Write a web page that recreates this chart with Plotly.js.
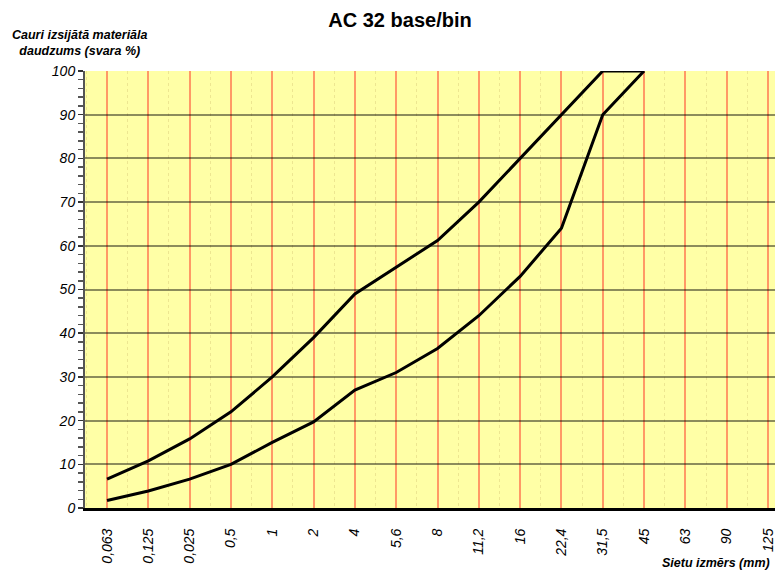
<!DOCTYPE html>
<html>
<head>
<meta charset="utf-8">
<script src="https://cdn.plot.ly/plotly-3.0.1.min.js"></script>
<style>html,body{margin:0;padding:0;background:#fff;overflow:hidden;}#chart{width:790px;height:573px;}</style>
</head>
<body>
<div id="chart"></div>
<script>
const categories = ["0,063","0,125","0,025","0,5","1","2","4","5,6","8","11,2","16","22,4","31,5","45","63","90","125"];
const upperLimit = [6.6, 10.8, 15.8, 22, 30, 39, 49, 55, 61.2, 70, 80, 90, 100, 100];
const lowerLimit = [1.7, 3.9, 6.6, 10, 15, 19.7, 27, 31, 36.5, 44, 53, 64, 90, 100];
const yTicks = [0,10,20,30,40,50,60,70,80,90,100];

const idx = categories.map((c, i) => i);
const font = "Liberation Sans, Arial, sans-serif";

const traces = [upperLimit, lowerLimit].map((vals, k) => ({
  x: idx.slice(0, vals.length),
  y: vals,
  type: 'scatter',
  mode: 'lines',
  name: k === 0 ? 'upper' : 'lower',
  line: {color: '#000000', width: 3, shape: 'linear'},
  hoverinfo: 'skip',
  showlegend: false
}));

const layout = {
  width: 790, height: 573,
  margin: {l: 85, r: 0, t: 71, b: 65},
  paper_bgcolor: '#ffffff',
  plot_bgcolor: '#FFFFA6',
  showlegend: false,
  title: {text: '<b>AC 32 base/bin</b>', font: {family: font, size: 20, color: '#000'}, xref: 'container', x: 400/790, xanchor: 'center', y: 0.965, yanchor: 'middle'},
  xaxis: {
    type: 'linear',
    range: [-0.533, 16.533],
    tickmode: 'array',
    tickvals: idx,
    ticktext: categories,
    tickangle: -90,
    tickfont: {family: font, size: 14, color: '#000', style: 'italic'},
    ticks: 'outside', ticklen: 12, tickcolor: 'rgba(0,0,0,0)',
    showgrid: true, gridcolor: '#FF9966', gridwidth: 2,
    minor: {tickmode: 'linear', tick0: 0.5, dtick: 1, showgrid: true, gridcolor: 'rgba(215,200,120,0.45)', griddash: 'dot', gridwidth: 1},
    showline: true, linecolor: '#000', linewidth: 3,
    zeroline: false, fixedrange: true
  },
  yaxis: {
    range: [0, 100],
    tickmode: 'array', tickvals: yTicks, ticktext: yTicks.map(String),
    tickfont: {family: font, size: 14, color: '#000', style: 'italic'},
    ticks: 'outside', ticklen: 5, tickcolor: '#333', tickwidth: 1.5,
    minor: {tickmode: 'linear', tick0: 0, dtick: 2, ticks: 'outside', ticklen: 5, tickcolor: '#555', showgrid: false},
    showgrid: true, gridcolor: 'rgba(0,0,0,0.45)', gridwidth: 2,
    showline: true, linecolor: '#555', linewidth: 2,
    zeroline: false, fixedrange: true
  },
  annotations: [
    {text: '<b><i>Cauri izsijātā materiāla<br>daudzums (svara %)</i></b>', xref: 'paper', yref: 'paper',
     x: -0.0078, y: 1.063, xanchor: 'center', yanchor: 'middle', showarrow: false, align: 'center',
     font: {family: font, size: 12.5, color: '#000'}},
    {text: '<b><i>Sietu izmērs (mm)</i></b>', xref: 'paper', yref: 'paper',
     x: (772 - 85) / 705, y: -0.126, xanchor: 'right', yanchor: 'middle', showarrow: false,
     font: {family: font, size: 12.5, color: '#000'}}
  ]
};

Plotly.newPlot('chart', traces, layout, {staticPlot: true, displayModeBar: false});
</script>
</body>
</html>
